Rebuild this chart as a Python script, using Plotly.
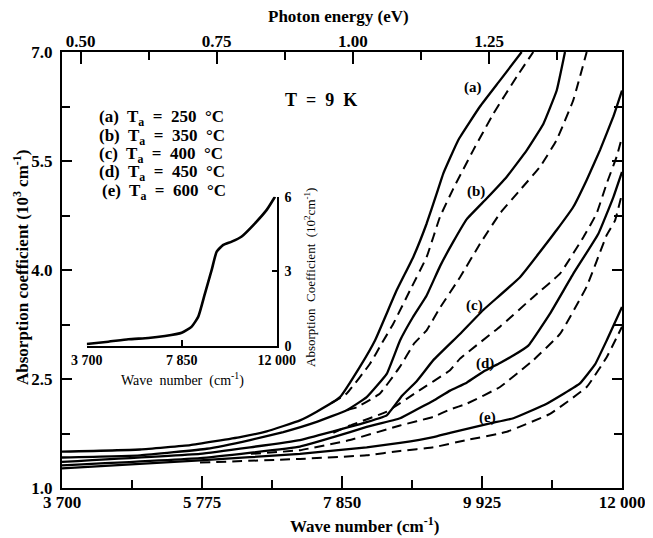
import plotly.graph_objects as go

# ---------------- data ----------------
# wave number (cm-1) / absorption coefficient (10^3 cm-1)
a_solid_x = [3700, 4860, 5600, 6340, 6734, 7227, 7475, 7820, 8117, 8339, 8660, 8907, 9105, 9253, 9352, 9574, 9895, 10192, 10513]
a_solid_y = [1.50, 1.53, 1.59, 1.70, 1.78, 1.93, 2.05, 2.25, 2.67, 3.03, 3.72, 4.18, 4.64, 5.05, 5.33, 5.79, 6.25, 6.61, 7.00]
a_dash_x = [7700, 7920, 8265, 8440, 8610, 8858, 9105, 9302, 9500, 9796, 10093, 10439, 10685]
a_dash_y = [2.17, 2.30, 2.71, 2.99, 3.26, 3.72, 4.18, 4.73, 5.12, 5.65, 6.15, 6.66, 7.00]

b_solid_x = [3700, 4860, 5845, 6487, 6980, 7475, 7920, 8216, 8513, 8710, 8900, 9105, 9302, 9500, 9700, 9990, 10290, 10590, 10834, 11032, 11155]
b_solid_y = [1.42, 1.45, 1.54, 1.66, 1.77, 1.91, 2.07, 2.25, 2.57, 3.03, 3.35, 3.65, 4.05, 4.39, 4.70, 4.98, 5.28, 5.65, 6.01, 6.47, 7.00]
b_dash_x = [7920, 8068, 8413, 8710, 8920, 9105, 9302, 9599, 9895, 10192, 10488, 10785, 11032, 11279, 11477]
b_dash_y = [2.07, 2.11, 2.30, 2.67, 2.99, 3.17, 3.48, 3.90, 4.36, 4.78, 5.10, 5.42, 5.79, 6.34, 7.00]

c_solid_x = [3700, 5745, 6487, 7227, 7721, 8117, 8513, 8740, 8957, 9204, 9599, 9944, 10488, 11032, 11279, 11477, 11674, 11871, 12000]
c_solid_y = [1.36, 1.47, 1.56, 1.66, 1.78, 1.88, 2.00, 2.27, 2.47, 2.76, 3.12, 3.45, 3.90, 4.55, 4.87, 5.24, 5.65, 6.11, 6.47]
c_dash_x = [7721, 7969, 8513, 8957, 9451, 9599, 10192, 10686, 11081, 11427, 11625, 11773, 11921, 12000]
c_dash_y = [1.76, 1.86, 2.05, 2.32, 2.62, 2.78, 3.22, 3.63, 3.95, 4.45, 4.78, 5.19, 5.56, 5.83]

d_solid_x = [3700, 5745, 7227, 7721, 8216, 8710, 8957, 9204, 9451, 9698, 9944, 10192, 10400, 10612, 10933, 11279, 11650, 11871, 12000]
d_solid_y = [1.31, 1.41, 1.57, 1.70, 1.84, 1.96, 2.08, 2.20, 2.34, 2.45, 2.60, 2.72, 2.83, 2.96, 3.40, 3.95, 4.50, 5.00, 5.35]
d_dash_x = [6500, 7227, 7969, 8710, 9204, 9451, 9698, 10192, 10686, 11081, 11476, 11773, 11896, 12000]
d_dash_y = [1.47, 1.52, 1.66, 1.86, 1.98, 2.08, 2.16, 2.39, 2.76, 3.12, 3.77, 4.48, 4.68, 5.05]

e_solid_x = [3700, 5745, 7227, 8216, 8710, 9204, 9451, 10044, 10390, 10884, 11377, 11600, 11773, 12000]
e_solid_y = [1.27, 1.38, 1.47, 1.56, 1.62, 1.70, 1.76, 1.89, 1.96, 2.16, 2.44, 2.70, 3.03, 3.49]
e_dash_x = [5745, 7227, 8216, 8710, 9204, 9698, 10192, 10340, 10933, 11477, 11773, 12000]
e_dash_y = [1.35, 1.40, 1.45, 1.51, 1.56, 1.66, 1.75, 1.79, 2.02, 2.39, 2.80, 3.22]

# inset: wave number (cm-1) / absorption coefficient (10^2 cm-1)
inset_x = [3700, 4645, 5517, 6391, 7120, 7850, 8287, 8575, 8868, 9160, 9379, 9667, 10034, 10471, 11052, 11563, 11926]
inset_y = [0.07, 0.16, 0.26, 0.31, 0.39, 0.52, 0.77, 1.17, 2.11, 3.05, 3.79, 4.06, 4.19, 4.40, 4.93, 5.47, 6.00]

x_ticks = [3700, 5775, 7850, 9925, 12000]
x_ticktext = ["3 700", "5 775", "7 850", "9 925", "12 000"]
y_ticks = [1.0, 2.5, 4.0, 5.5, 7.0]
e_ticks = [0.50, 0.75, 1.00, 1.25]
e_ticktext = ["0.50", "0.75", "1.00", "1.25"]
inset_xticks = [3700, 7850, 12000]
inset_xticktext = ["3 700", "7 850", "12 000"]
inset_yticks = [0, 3, 6]

legend_lines = ["(a)", "(b)", "(c)", "(d)", "(e)"]
legend_temps = ["250", "350", "400", "450", "600"]

# ---------------- layout helpers ----------------
# the page body has an 8 px margin, so the figure is drawn 8 px smaller
# and every position below is given in page pixels
OFF = 8
W, H = 653 - OFF, 538 - OFF
PX0, PX1, PY0, PY1 = 62, 622, 52, 488          # plot area on the page
L, T = PX0 - OFF, PY0 - OFF
R, B = (653 - PX1), (538 - PY1)
PW, PH = PX1 - PX0, PY1 - PY0
SERIF = "Liberation Serif"


def px(x):
    return (x - PX0) / PW


def py(y):
    return (PY1 - y) / PH


fig = go.Figure()

curves = [
    (a_solid_x, a_solid_y, "solid"), (a_dash_x, a_dash_y, "10px,6px"),
    (b_solid_x, b_solid_y, "solid"), (b_dash_x, b_dash_y, "10px,6px"),
    (c_solid_x, c_solid_y, "solid"), (c_dash_x, c_dash_y, "10px,6px"),
    (d_solid_x, d_solid_y, "solid"), (d_dash_x, d_dash_y, "10px,6px"),
    (e_solid_x, e_solid_y, "solid"), (e_dash_x, e_dash_y, "10px,6px"),
]
for cx, cy, dash in curves:
    fig.add_trace(go.Scatter(
        x=cx, y=cy, mode="lines", showlegend=False, hoverinfo="skip",
        line=dict(color="black", width=2.3 if dash == "solid" else 2.0, dash=dash,
                  shape="spline", smoothing=0.3)))

# dummy trace for the top photon-energy axis
fig.add_trace(go.Scatter(x=[e_ticks[0]], y=[y_ticks[0]], xaxis="x2", yaxis="y",
                         mode="markers", marker=dict(opacity=0), showlegend=False,
                         hoverinfo="skip"))

# inset curve
fig.add_trace(go.Scatter(x=inset_x, y=inset_y, xaxis="x3", yaxis="y3", mode="lines",
                         showlegend=False, hoverinfo="skip",
                         line=dict(color="black", width=2.6, shape="spline", smoothing=0.5)))

tickfont = dict(family=SERIF, size=17, color="black", weight="bold")
insetfont = dict(family=SERIF, size=14, color="black", weight="bold")

fig.update_layout(
    width=W, height=H, margin=dict(l=L, r=R, t=T, b=B, autoexpand=False),
    paper_bgcolor="white", plot_bgcolor="white",
    xaxis=dict(range=[3700, 12000], tickvals=x_ticks, ticktext=x_ticktext,
               ticks="inside", ticklen=12, tickwidth=2, tickcolor="black",
               minor=dict(ticks="inside", ticklen=8, tickwidth=2, tickcolor="black",
                          tick0=3700, dtick=1037.5),
               showline=True, linewidth=2, linecolor="black", mirror=True,
               showgrid=False, zeroline=False, tickfont=tickfont, ticklabelstandoff=-2),
    yaxis=dict(range=[1, 7], tickvals=y_ticks, tickformat=".1f",
               ticks="inside", ticklen=10, tickwidth=2, tickcolor="black",
               minor=dict(ticks="inside", ticklen=8, tickwidth=2, tickcolor="black",
                          tick0=1, dtick=0.75),
               showline=True, linewidth=2, linecolor="black", mirror="ticks",
               showgrid=False, zeroline=False, tickfont=tickfont, ticklabelstandoff=4),
    xaxis2=dict(overlaying="x", side="top", range=[0.466, 1.494],
                tickvals=e_ticks, ticktext=e_ticktext,
                ticks="inside", ticklen=12, tickwidth=2, tickcolor="black",
                minor=dict(ticks="inside", ticklen=8, tickwidth=2, tickcolor="black",
                           tick0=0.5, dtick=0.125),
                showline=False, showgrid=False, zeroline=False, tickfont=tickfont,
                ticklabelstandoff=1),
    xaxis3=dict(domain=[px(86.7), px(276.7)], anchor="y3", range=[3700, 12000],
                tickvals=inset_xticks, ticktext=inset_xticktext,
                ticks="inside", ticklen=6, tickwidth=2, tickcolor="black",
                showline=True, linewidth=2, linecolor="black",
                showgrid=False, zeroline=False, tickfont=insetfont, ticklabelstandoff=0),
    yaxis3=dict(domain=[py(345.7), py(196.7)], anchor="x3", side="right", range=[0, 6],
                tickvals=inset_yticks, ticks="inside", ticklen=5, tickwidth=2,
                tickcolor="black", showline=True, linewidth=2, linecolor="black",
                showgrid=False, zeroline=False, tickfont=insetfont, ticklabelstandoff=3),
)

ann = []


def text(x, y, s, size=17, bold=True, angle=0, xanchor="center", family=SERIF):
    ann.append(dict(x=px(x), y=py(y), xref="paper", yref="paper", text=s,
                    showarrow=False, textangle=angle, xanchor=xanchor, yanchor="middle",
                    font=dict(family=family, size=size, color="black",
                              weight="bold" if bold else "normal")))


NB = "\u00a0"
text(338, 17, "Photon energy (eV)")
text(364, 525, "Wave number (cm<sup>-1</sup>)")
text(21, 268, "Absorption coefficient (10<sup>3</sup> cm<sup>-1</sup>)", angle=-90)
text(321, 100, "T" + NB + NB + "=" + NB + NB + "9" + NB + NB + "K", size=18)

leg_y = [118, 137, 155, 173, 192]
for lab, tmp, yy in zip(legend_lines, legend_temps, leg_y):
    s = lab + NB + " T<sub>a</sub>" + NB + " = " + NB + tmp + NB + " °C"
    text(97 if lab != "(e)" else 100, yy, s, size=17, xanchor="left")

for lab, (lx, ly) in zip(legend_lines, [(473, 88), (476, 192), (474, 305), (485, 363), (487, 417)]):
    text(lx, ly, lab, size=15)

text(182, 380, "Wave" + NB + " number" + NB + " (cm<sup>-1</sup>)", size=14, bold=False)
text(310, 278, "Absorption" + NB + " Coefficient" + NB + " (10<sup>2</sup>cm<sup>-1</sup>)",
     size=13, bold=False, angle=-90)

fig.update_layout(annotations=ann)
fig.write_html("out.html")
